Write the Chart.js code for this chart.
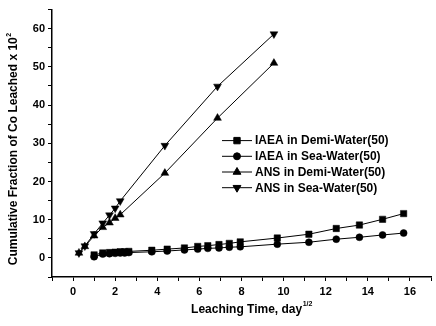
<!DOCTYPE html>
<html>
<head>
<meta charset="utf-8">
<script src="https://cdn.jsdelivr.net/npm/chart.js@4/dist/chart.umd.min.js"></script>
<style>
  html, body { margin: 0; padding: 0; background: #fff; }
  #wrap { width: 436px; height: 326px; position: relative; }
</style>
</head>
<body>
<div id="wrap"><canvas id="leachChart"></canvas></div>
<script>
// sqrt(time) values, day^1/2
const iaeaTime = [1.0, 1.41, 1.73, 2.0, 2.24, 2.45, 2.65, 3.74, 4.47, 5.29, 5.92, 6.4, 6.93, 7.42, 7.94, 9.7, 11.2, 12.5, 13.6, 14.7, 15.7];
const iaeaDemi = [0.8, 1.3, 1.4, 1.5, 1.6, 1.6, 1.7, 2.0, 2.3, 2.6, 3.0, 3.2, 3.5, 3.8, 4.2, 5.2, 6.2, 7.7, 8.6, 10.1, 11.6];
const iaeaSea = [0.3, 1.0, 1.1, 1.2, 1.3, 1.3, 1.4, 1.6, 1.8, 2.1, 2.3, 2.5, 2.6, 2.8, 2.9, 3.6, 4.1, 4.9, 5.4, 6.0, 6.5];

const ansTime = [0.28, 0.56, 1.0, 1.41, 1.73, 2.0, 2.24, 4.36, 6.86, 9.54];
const ansDemi = [1.3, 3.0, 5.8, 8.0, 9.2, 10.4, 11.3, 22.2, 36.6, 51.0];
const ansSea = [1.3, 3.1, 6.3, 9.1, 11.2, 13.0, 14.9, 29.4, 44.9, 58.6];

const seriesLabels = ['IAEA in Demi-Water(50)', 'IAEA in Sea-Water(50)', 'ANS in Demi-Water(50)', 'ANS in Sea-Water(50)'];

function toPoints(xs, ys) {
    return xs.map((x, i) => ({ x: x, y: ys[i] }));
}

function series(label, data, style, rotation) {
    let radius = 4.5;
    if (style === 'circle') radius = 3.5;
    return {
        label: label,
        data: data,
        showLine: true,
        borderColor: '#000',
        backgroundColor: '#000',
        borderWidth: 1,
        pointStyle: style,
        rotation: rotation || 0,
        pointRadius: radius,
        pointBorderWidth: 0.5
    };
}

const FONT = 'Liberation Sans, Arial, sans-serif';

// legend + axis titles drawn on the canvas
const decorations = {
    id: 'decorations',
    afterDraw(chart) {
        const ctx = chart.ctx;
        const area = chart.chartArea;
        ctx.save();
        ctx.fillStyle = '#000';
        ctx.strokeStyle = '#000';

        // legend
        const lx = area.left + 170, ly = area.top + 131, row = 15.7;
        chart.data.datasets.forEach((ds, i) => {
            const y = ly + i * row;
            ctx.lineWidth = 1;
            ctx.beginPath();
            ctx.moveTo(lx, y);
            ctx.lineTo(lx + 30, y);
            ctx.stroke();
            Chart.helpers.drawPoint(ctx, {
                pointStyle: ds.pointStyle, rotation: ds.rotation,
                radius: ds.pointRadius, borderWidth: 0.5
            }, lx + 15, y);
            ctx.font = 'bold 12px ' + FONT;
            ctx.textBaseline = 'middle';
            ctx.textAlign = 'left';
            ctx.fillText(ds.label, lx + 33, y + 0.5);
        });

        // x title
        const xMain = 'Leaching Time, day';
        ctx.font = 'bold 12px ' + FONT;
        const w1 = ctx.measureText(xMain).width;
        ctx.font = 'bold 7px ' + FONT;
        const w2 = ctx.measureText('1/2').width;
        const xStart = (area.left + area.right) / 2 + 10 - (w1 + w2) / 2;
        ctx.textBaseline = 'alphabetic';
        ctx.textAlign = 'left';
        ctx.font = 'bold 12px ' + FONT;
        ctx.fillText(xMain, xStart, 313);
        ctx.font = 'bold 7px ' + FONT;
        ctx.fillText('1/2', xStart + w1 + 0.5, 306);

        // y title (rotated)
        const yMain = 'Cumulative Fraction of Co Leached x 10';
        ctx.translate(17, (area.top + area.bottom) / 2 + 6);
        ctx.rotate(-Math.PI / 2);
        ctx.font = 'bold 12px ' + FONT;
        const h1 = ctx.measureText(yMain).width;
        ctx.font = 'bold 7px ' + FONT;
        const h2 = ctx.measureText('2').width;
        const yStart = -(h1 + h2) / 2;
        ctx.font = 'bold 12px ' + FONT;
        ctx.fillText(yMain, yStart, 0);
        ctx.font = 'bold 7px ' + FONT;
        ctx.fillText('2', yStart + h1 + 0.5, -6);
        ctx.restore();
    }
};

const ctx = document.getElementById('leachChart').getContext('2d');
new Chart(ctx, {
    type: 'scatter',
    data: {
        datasets: [
            series(seriesLabels[0], toPoints(iaeaTime, iaeaDemi), 'rect'),
            series(seriesLabels[1], toPoints(iaeaTime, iaeaSea), 'circle'),
            series(seriesLabels[2], toPoints(ansTime, ansDemi), 'triangle'),
            series(seriesLabels[3], toPoints(ansTime, ansSea), 'triangle', 180)
        ]
    },
    options: {
        responsive: true,
        maintainAspectRatio: false,
        animation: false,
        layout: { padding: { top: 9, right: 3, left: 0, bottom: 0 } },
        plugins: {
            legend: { display: false },
            tooltip: { enabled: false }
        },
        scales: {
            x: {
                type: 'linear',
                min: -1,
                max: 17,
                afterFit: scale => { scale.height = 49; },
                border: { color: '#000', width: 1.5 },
                grid: { drawOnChartArea: false, color: '#000', tickLength: 4, lineWidth: 1 },
                ticks: {
                    stepSize: 1,
                    padding: 4,
                    color: '#000',
                    font: { family: FONT, size: 11, weight: 'bold' },
                    maxRotation: 0,
                    autoSkip: false,
                    callback: v => (v % 2 === 0 && v >= 0 && v <= 16) ? String(v) : ''
                }
            },
            y: {
                type: 'linear',
                min: -5,
                max: 65,
                afterFit: scale => { scale.width = 52; },
                border: { color: '#000', width: 1.5 },
                grid: { drawOnChartArea: false, color: '#000', tickLength: 4, lineWidth: 1 },
                ticks: {
                    stepSize: 5,
                    padding: 3,
                    color: '#000',
                    font: { family: FONT, size: 11, weight: 'bold' },
                    autoSkip: false,
                    callback: v => (v % 10 === 0 && v >= 0) ? String(v) : ''
                }
            }
        }
    },
    plugins: [decorations]
});
</script>
</body>
</html>
